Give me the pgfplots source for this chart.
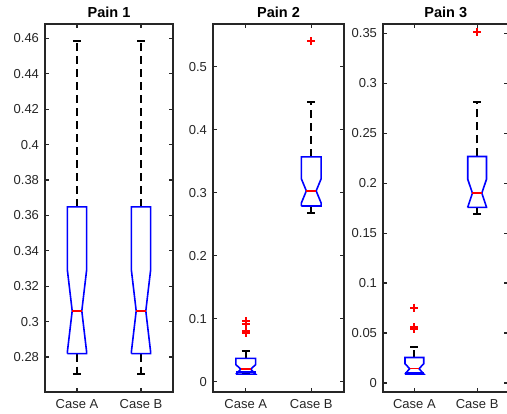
\documentclass[border=0pt]{standalone}
\usepackage{pgfplots}
\pgfplotsset{compat=1.18}
\usepackage{fontspec}
\setmainfont{Liberation Sans}
\definecolor{axgray}{RGB}{38,38,38}
\begin{document}
\fontsize{13}{15}\selectfont
\begin{tikzpicture}
\useasboundingbox (0,0) rectangle (507pt,414pt);
\pgfplotsset{
 mybox/.style={
  scale only axis, anchor=south west, height=368pt,
  xmin=0.5, xmax=2.5, xtick={1,2}, xticklabels={Case A, Case B},
  tick align=inside, tick pos=both, major tick length=4pt,
  axis line style={axgray, line width=1.5pt},
  every tick/.style={axgray, line width=1.2pt},
  tick label style={text=axgray, font=\fontsize{13}{15}\selectfont},
  xticklabel style={yshift=-3pt},
  yticklabel style={xshift=-1.5pt, /pgf/number format/fixed, /pgf/number format/precision=2},
  title style={font=\bfseries\fontsize{14.5}{16}\selectfont, yshift=-4.5pt},
  /pgf/number format/assume math mode=true,
  clip=false,
 },
 boxs/.style={blue, line width=1.6pt, no markers},
 meds/.style={red, line width=1.5pt, no markers},
 whisk/.style={black, line width=2pt, dash pattern=on 8pt off 5pt, no markers},
 caps/.style={black, line width=1.8pt, no markers},
 outl/.style={only marks, mark=+, mark size=4pt, red, mark options={line width=2pt, solid}},
}
% ---------------- Pain 1
\begin{axis}[mybox, at={(45pt,22pt)}, width=128pt, title={Pain 1},
  ymin=0.2602, ymax=0.4681, ytick={0.28,0.30,...,0.461}]
\addplot[whisk] coordinates {(1,0.3648) (1,0.4587)};
\addplot[whisk] coordinates {(1,0.2819) (1,0.2702)};
\addplot[whisk] coordinates {(2,0.3648) (2,0.4587)};
\addplot[whisk] coordinates {(2,0.2819) (2,0.2702)};
\addplot[caps] coordinates {(0.9375,0.4587) (1.0625,0.4587)};
\addplot[caps] coordinates {(0.9375,0.2702) (1.0625,0.2702)};
\addplot[caps] coordinates {(1.9375,0.4587) (2.0625,0.4587)};
\addplot[caps] coordinates {(1.9375,0.2702) (2.0625,0.2702)};
\addplot[boxs] coordinates {(0.85,0.2819) (0.85,0.283) (0.925,0.306) (0.85,0.329) (0.85,0.3648) (1.15,0.3648) (1.15,0.329) (1.075,0.306) (1.15,0.283) (1.15,0.2819) (0.85,0.2819)};
\addplot[boxs] coordinates {(1.85,0.2819) (1.85,0.283) (1.925,0.306) (1.85,0.329) (1.85,0.3648) (2.15,0.3648) (2.15,0.329) (2.075,0.306) (2.15,0.283) (2.15,0.2819) (1.85,0.2819)};
\addplot[meds] coordinates {(0.925,0.306) (1.075,0.306)};
\addplot[meds] coordinates {(1.925,0.306) (2.075,0.306)};
\end{axis}
% ---------------- Pain 2
\begin{axis}[mybox, at={(213pt,22pt)}, width=131pt, title={Pain 2},
  ymin=-0.0163, ymax=0.568, ytick={0,0.1,...,0.51}]
\addplot[whisk] coordinates {(1,0.037) (1,0.049)};
\addplot[whisk] coordinates {(1,0.0155) (1,0.012)};
\addplot[whisk] coordinates {(2,0.357) (2,0.444)};
\addplot[whisk] coordinates {(2,0.279) (2,0.2684)};
\addplot[caps] coordinates {(0.9375,0.049) (1.0625,0.049)};
\addplot[caps] coordinates {(0.9375,0.012) (1.0625,0.012)};
\addplot[caps] coordinates {(1.9375,0.444) (2.0625,0.444)};
\addplot[caps] coordinates {(1.9375,0.2684) (2.0625,0.2684)};
\addplot[boxs] coordinates {(0.85,0.012) (0.925,0.02) (0.85,0.027) (0.85,0.037) (1.15,0.037) (1.15,0.027) (1.075,0.02) (1.15,0.012) (0.85,0.012)};
\addplot[boxs] coordinates {(0.85,0.0155) (1.15,0.0155)};
\addplot[boxs] coordinates {(1.85,0.279) (1.85,0.284) (1.925,0.303) (1.85,0.322) (1.85,0.357) (2.15,0.357) (2.15,0.322) (2.075,0.303) (2.15,0.284) (2.15,0.279) (1.85,0.279)};
\addplot[meds] coordinates {(0.925,0.02) (1.075,0.02)};
\addplot[meds] coordinates {(1.925,0.303) (2.075,0.303)};
\addplot[outl] coordinates {(1,0.096) (1,0.091) (1,0.081) (1,0.077) (2,0.541)};
\end{axis}
% ---------------- Pain 3
\begin{axis}[mybox, at={(383pt,22pt)}, width=125.5pt, title={Pain 3},
  ymin=-0.009, ymax=0.3593, ytick={0,0.05,...,0.351}]
\addplot[whisk] coordinates {(1,0.0255) (1,0.0357)};
\addplot[whisk] coordinates {(1,0.0105) (1,0.009)};
\addplot[whisk] coordinates {(2,0.2267) (2,0.281)};
\addplot[whisk] coordinates {(2,0.1757) (2,0.169)};
\addplot[caps] coordinates {(0.9375,0.0357) (1.0625,0.0357)};
\addplot[caps] coordinates {(0.9375,0.009) (1.0625,0.009)};
\addplot[caps] coordinates {(1.9375,0.281) (2.0625,0.281)};
\addplot[caps] coordinates {(1.9375,0.169) (2.0625,0.169)};
\addplot[boxs] coordinates {(0.85,0.009) (0.925,0.0143) (0.85,0.0194) (0.85,0.0255) (1.15,0.0255) (1.15,0.0194) (1.075,0.0143) (1.15,0.009) (0.85,0.009)};
\addplot[boxs] coordinates {(0.85,0.0105) (1.15,0.0105)};
\addplot[boxs] coordinates {(1.85,0.1757) (1.85,0.176) (1.925,0.19) (1.85,0.204) (1.85,0.2267) (2.15,0.2267) (2.15,0.204) (2.075,0.19) (2.15,0.176) (2.15,0.1757) (1.85,0.1757)};
\addplot[meds] coordinates {(0.925,0.0143) (1.075,0.0143)};
\addplot[meds] coordinates {(1.925,0.19) (2.075,0.19)};
\addplot[outl] coordinates {(1,0.0755) (1,0.056) (1,0.0537) (2,0.351)};
\end{axis}
\end{tikzpicture}
\end{document}
